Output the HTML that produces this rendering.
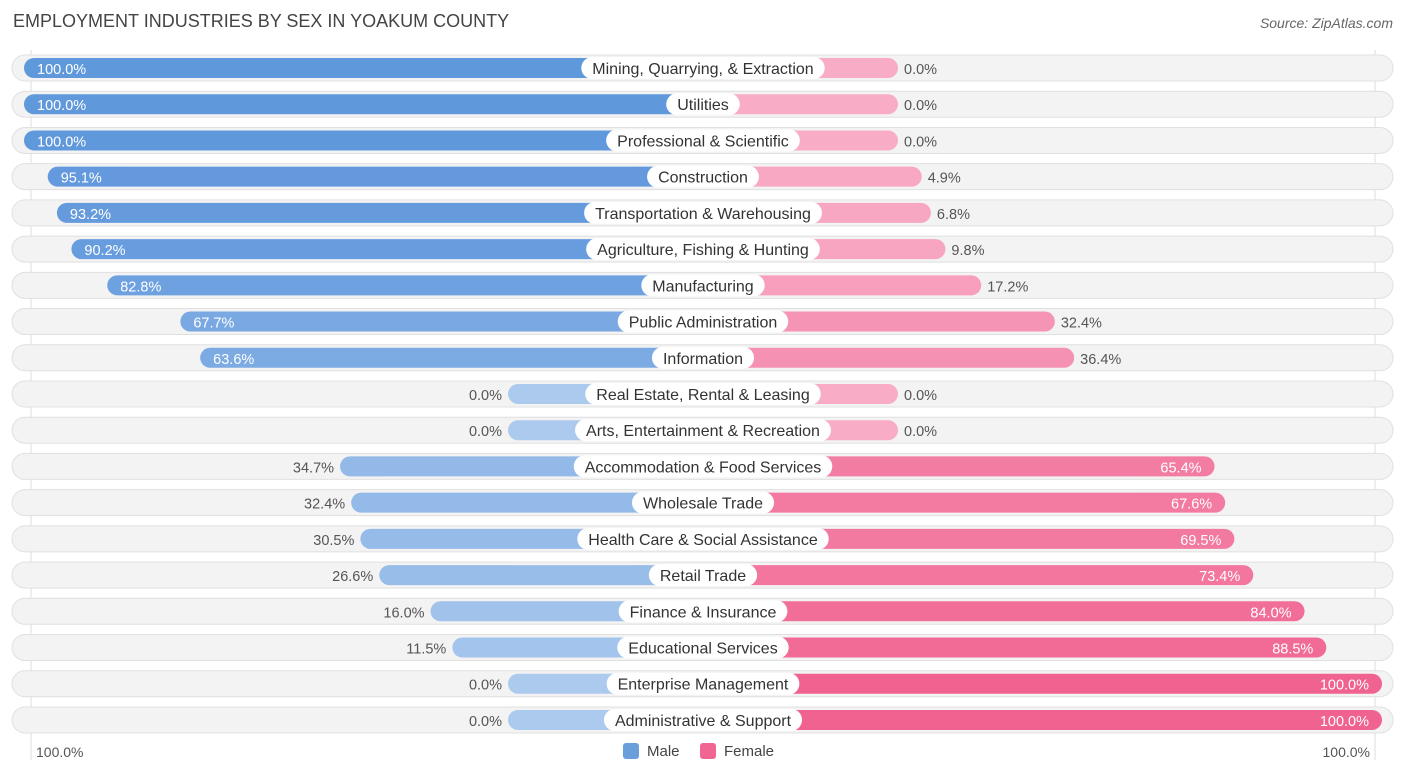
<!DOCTYPE html>
<html><head><meta charset="utf-8"><style>
body{margin:0;background:#fff;font-family:"Liberation Sans",sans-serif;}
#wrap{position:relative;width:1406px;height:776px;overflow:hidden;}
.t{position:absolute;white-space:nowrap;}
</style></head><body>
<div id="wrap">
<div class="t" style="left:13px;top:11px;font-size:18px;color:#444;">EMPLOYMENT INDUSTRIES BY SEX IN YOAKUM COUNTY</div>
<div class="t" style="right:13px;top:15px;font-size:14px;color:#666;font-style:italic;">Source: ZipAtlas.com</div>
<svg id="svg" width="1406" height="776" style="position:absolute;left:0;top:0"></svg>
<div class="t" style="left:36px;top:744px;font-size:14px;color:#555;">100.0%</div>
<div class="t" style="right:36px;top:744px;font-size:14px;color:#555;">100.0%</div>
<div class="t" style="left:623px;top:743px;font-size:15px;color:#444;"><span style="display:inline-block;width:16px;height:16px;background:#6a9fdc;border-radius:3px;vertical-align:-3px;margin-right:8px"></span>Male</div>
<div class="t" style="left:700px;top:743px;font-size:15px;color:#444;"><span style="display:inline-block;width:16px;height:16px;background:#f06592;border-radius:3px;vertical-align:-3px;margin-right:8px"></span>Female</div>
</div>
<script>
const categories=["Mining, Quarrying, & Extraction","Utilities","Professional & Scientific","Construction","Transportation & Warehousing","Agriculture, Fishing & Hunting","Manufacturing","Public Administration","Information","Real Estate, Rental & Leasing","Arts, Entertainment & Recreation","Accommodation & Food Services","Wholesale Trade","Health Care & Social Assistance","Retail Trade","Finance & Insurance","Educational Services","Enterprise Management","Administrative & Support"];
const maleValues=[100,100,100,95.1,93.2,90.2,82.8,67.7,63.6,0,0,34.7,32.4,30.5,26.6,16.0,11.5,0,0];
const femaleValues=[0,0,0,4.9,6.8,9.8,17.2,32.4,36.4,0,0,65.4,67.6,69.5,73.4,84.0,88.5,100,100];
const NS="http://www.w3.org/2000/svg";
const svg=document.getElementById('svg');
const cx=703,base=195,k=4.84,y0=68,step=36.22;
function bx(v){return base+v*k;}
function ry(i){return y0+i*step;}
function mix(a,b,t){return 'rgb('+a.map((c,j)=>Math.round(c+(b[j]-c)*t)).join(',')+')';}
function el(tag,attrs,name){const e=document.createElementNS(NS,tag);for(const a in attrs)e.setAttribute(a,attrs[a]);


svg.appendChild(e);return e;}
el('line',{x1:31,y1:50,x2:31,y2:760,stroke:'#ddd'},'axis-line-left');
el('line',{x1:1375,y1:50,x2:1375,y2:760,stroke:'#ddd'},'axis-line-right');
categories.forEach((c,i)=>{
 const y=ry(i);
 el('rect',{x:12,y:y-13,width:1381,height:26,rx:13,fill:'#f3f3f3',stroke:'#e0e0e0'},'row-bg');
 const mv=maleValues[i],fv=femaleValues[i];
 const mw=bx(mv),fw=bx(fv);
 el('rect',{x:cx-mw,y:y-10,width:mw,height:20,rx:10,fill:mix([172,202,238],[96,152,220],mv/100)},'bar-male');
 el('rect',{x:cx,y:y-10,width:fw,height:20,rx:10,fill:mix([248,172,198],[240,98,144],fv/100)},'bar-female');
 const mt=el('text',{y:y+6,'font-size':14.5,'font-family':'Liberation Sans,sans-serif'},'value-male');
 if(mv>50){mt.setAttribute('x',cx-mw+13);mt.setAttribute('fill','#fff');}
 else{mt.setAttribute('x',cx-mw-6);mt.setAttribute('text-anchor','end');mt.setAttribute('fill','#555');}
 mt.textContent=mv.toFixed(1)+'%';
 const ft=el('text',{y:y+6,'font-size':14.5,'font-family':'Liberation Sans,sans-serif'},'value-female');
 if(fv>50){ft.setAttribute('x',cx+fw-13);ft.setAttribute('text-anchor','end');ft.setAttribute('fill','#fff');}
 else{ft.setAttribute('x',cx+fw+6);ft.setAttribute('fill','#555');}
 ft.textContent=fv.toFixed(1)+'%';
 const lt=el('text',{x:cx,y:y+6,'font-size':16,'text-anchor':'middle',fill:'#333','font-family':'Liberation Sans,sans-serif'},'category-label');
 lt.textContent=c;
 const w=lt.getComputedTextLength()+22;
 const pill=el('rect',{x:cx-w/2,y:y-11,width:w,height:22,rx:11,fill:'#fff'},'category-pill');
 svg.insertBefore(pill,lt);
});
</script>
</body></html>
